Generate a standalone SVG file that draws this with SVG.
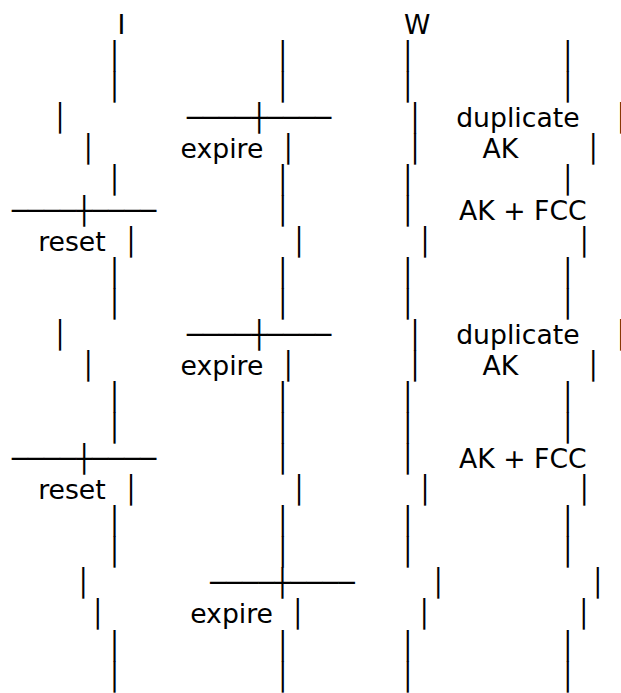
<svg xmlns="http://www.w3.org/2000/svg" width="621" height="693" viewBox="0 0 621 693">
<style>
text{font-family:"DejaVu Sans",sans-serif;font-size:26.67px;fill:#000}
.v{text-anchor:middle}
</style>
<rect width="621" height="693" fill="#fff"/>
<g id="headers">
<text x="117.4" y="33.7">I</text>
<text x="404.1" y="33.7">W</text>
</g>
<g id="connectors">
<!-- r1 r2 -->
<text class="v" x="114.5" y="64.74">│</text><text class="v" x="282.7" y="64.74">│</text><text class="v" x="407.7" y="64.74">│</text><text class="v" x="567.7" y="64.74">│</text>
<text class="v" x="114.5" y="95.78">│</text><text class="v" x="282.7" y="95.78">│</text><text class="v" x="407.7" y="95.78">│</text><text class="v" x="567.7" y="95.78">│</text>
<!-- r3 -->
<text class="v" x="60" y="126.82">│</text><text x="186.7" y="126.82">────┼────</text><text class="v" x="415" y="126.82">│</text><text class="v" x="621.4" y="126.82">│</text>
<!-- r4 -->
<text class="v" x="88.3" y="157.86">│</text><text class="v" x="288.3" y="157.86">│</text><text class="v" x="415" y="157.86">│</text><text class="v" x="593.3" y="157.86">│</text>
<!-- r5 -->
<text class="v" x="114.5" y="188.9">│</text><text class="v" x="282.7" y="188.9">│</text><text class="v" x="407.7" y="188.9">│</text><text class="v" x="567.7" y="188.9">│</text>
<!-- r6 -->
<text x="11.7" y="219.94">────┼────</text><text class="v" x="282.7" y="219.94">│</text><text class="v" x="407.7" y="219.94">│</text>
<!-- r7 -->
<text class="v" x="131" y="250.98">│</text><text class="v" x="299" y="250.98">│</text><text class="v" x="425" y="250.98">│</text><text class="v" x="584.3" y="250.98">│</text>
<!-- r8 r9 -->
<text class="v" x="114.5" y="282.02">│</text><text class="v" x="282.7" y="282.02">│</text><text class="v" x="407.7" y="282.02">│</text><text class="v" x="567.7" y="282.02">│</text>
<text class="v" x="114.5" y="313.06">│</text><text class="v" x="282.7" y="313.06">│</text><text class="v" x="407.7" y="313.06">│</text><text class="v" x="567.7" y="313.06">│</text>
<!-- r10 -->
<text class="v" x="60" y="344.1">│</text><text x="186.7" y="344.1">────┼────</text><text class="v" x="415" y="344.1">│</text><text class="v" x="621.4" y="344.1">│</text>
<!-- r11 -->
<text class="v" x="88.3" y="375.14">│</text><text class="v" x="288.3" y="375.14">│</text><text class="v" x="415" y="375.14">│</text><text class="v" x="593.3" y="375.14">│</text>
<!-- r12 r13 -->
<text class="v" x="114.5" y="406.18">│</text><text class="v" x="282.7" y="406.18">│</text><text class="v" x="407.7" y="406.18">│</text><text class="v" x="567.7" y="406.18">│</text>
<text class="v" x="114.5" y="437.22">│</text><text class="v" x="282.7" y="437.22">│</text><text class="v" x="407.7" y="437.22">│</text><text class="v" x="567.7" y="437.22">│</text>
<!-- r14 -->
<text x="11.7" y="468.26">────┼────</text><text class="v" x="282.7" y="468.26">│</text><text class="v" x="407.7" y="468.26">│</text>
<!-- r15 -->
<text class="v" x="131" y="499.3">│</text><text class="v" x="299" y="499.3">│</text><text class="v" x="425" y="499.3">│</text><text class="v" x="584.3" y="499.3">│</text>
<!-- r16 r17 -->
<text class="v" x="114.5" y="530.34">│</text><text class="v" x="282.7" y="530.34">│</text><text class="v" x="407.7" y="530.34">│</text><text class="v" x="567.7" y="530.34">│</text>
<text class="v" x="114.5" y="561.38">│</text><text class="v" x="282.7" y="561.38">│</text><text class="v" x="407.7" y="561.38">│</text><text class="v" x="567.7" y="561.38">│</text>
<!-- r18 -->
<text class="v" x="83.3" y="592.42">│</text><text x="210" y="592.42">────┼────</text><text class="v" x="438.3" y="592.42">│</text><text class="v" x="597.7" y="592.42">│</text>
<!-- r19 -->
<text class="v" x="97.7" y="623.46">│</text><text class="v" x="297.7" y="623.46">│</text><text class="v" x="424.3" y="623.46">│</text><text class="v" x="583.7" y="623.46">│</text>
<!-- r20 r21 -->
<text class="v" x="114.5" y="654.5">│</text><text class="v" x="282.7" y="654.5">│</text><text class="v" x="407.7" y="654.5">│</text><text class="v" x="567.7" y="654.5">│</text>
<text class="v" x="114.5" y="685.54">│</text><text class="v" x="282.7" y="685.54">│</text><text class="v" x="407.7" y="685.54">│</text><text class="v" x="567.7" y="685.54">│</text>
</g>
<g id="labels">
<g id="expire-1"><text x="180.5" y="157.86">expire</text></g>
<g id="dup-1"><text x="456.2" y="126.82">duplicate</text><text x="482.5" y="157.86">AK</text></g>
<g id="akfcc-1"><text x="459.1" y="219.94">AK + FCC</text></g>
<g id="reset-1"><text x="38.2" y="250.98">reset</text></g>
<g id="expire-2"><text x="180.5" y="375.14">expire</text></g>
<g id="dup-2"><text x="456.2" y="344.1">duplicate</text><text x="482.5" y="375.14">AK</text></g>
<g id="akfcc-2"><text x="459.1" y="468.26">AK + FCC</text></g>
<g id="reset-2"><text x="38.2" y="499.3">reset</text></g>
<g id="expire-3"><text x="190.2" y="623.46">expire</text></g>
</g>
</svg>
